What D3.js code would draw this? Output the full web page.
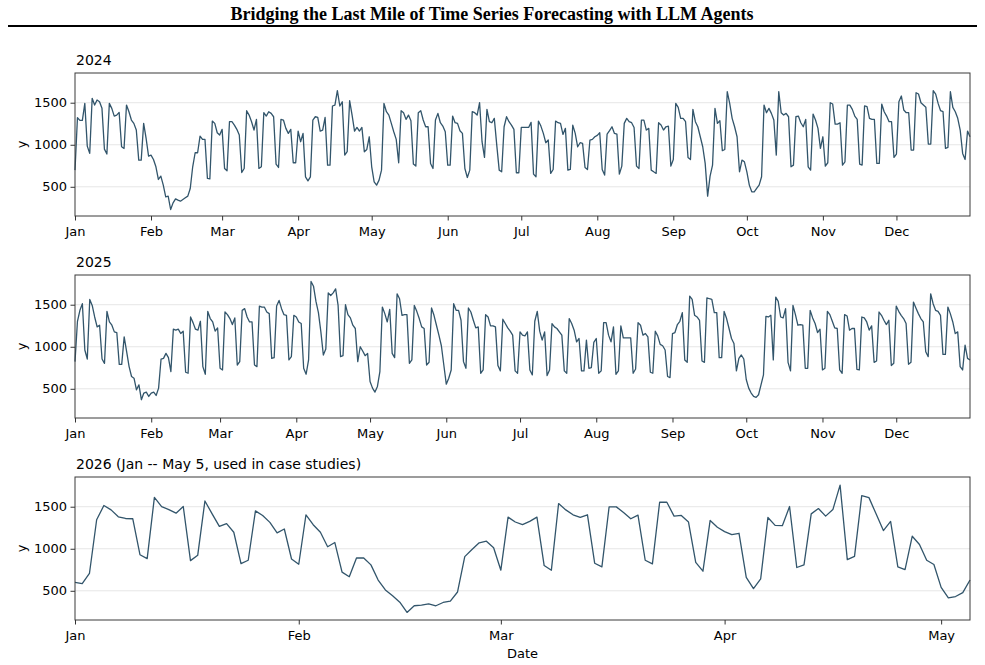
<!doctype html>
<html lang='en'>
  <head>
    <meta charset='utf-8'>
    <title>Bridging the Last Mile of Time Series Forecasting with LLM Agents</title>
    <script src='https://d3js.org/d3.v7.min.js'></script>
    <style>
      body { margin: 0; background: #fff; }
      svg { display: block; font-family: 'DejaVu Sans', sans-serif; }
    </style>
  </head>
  <body>
    <svg width='985' height='665'></svg>
    <script>
      // daily values
      var values2024 = [
        698,1321,1290,1290,1492,984,897,1552,1472,1532,
        1512,1433,948,889,1492,1433,1341,1353,1385,976,
        956,1472,1393,1294,1254,1175,817,817,1254,1075,
        865,877,825,738,587,627,520,381,389,230,
        309,357,341,329,349,369,389,480,738,905,
        905,1103,1064,1064,599,595,1282,1254,1143,1115,
        1183,718,690,1274,1274,1234,1183,1115,670,718,
        1405,1353,1274,1175,1302,718,738,1381,1341,1393,
        1373,1333,770,730,1302,1294,1195,1135,1183,786,
        786,1163,1036,1135,619,571,619,1294,1333,1325,
        1163,1175,1325,758,758,1461,1472,1643,1461,1512,
        877,917,1524,1353,1163,1206,1163,1206,917,944,
        1095,738,559,520,579,698,1492,1393,1353,1254,
        1155,1064,786,1405,1381,1302,1353,1286,770,746,
        1381,1405,1294,1214,1214,778,718,1294,1373,1262,
        1222,1155,758,758,1341,1262,1254,1167,1135,718,
        611,698,1393,1381,1353,1500,1036,849,1421,1274,
        1262,1314,996,698,678,1214,1333,1274,1234,1183,
        667,667,1206,1206,1206,1206,1266,651,619,1282,
        1222,1135,1024,1056,659,706,1282,1262,1254,1123,
        1195,698,706,1234,1135,976,1024,1016,730,706,
        1056,1064,1095,1111,1143,706,639,1127,1167,1214,
        1135,1127,651,746,1254,1314,1274,1262,1206,746,
        718,1294,1294,1175,1195,698,678,659,1262,1234,
        1175,1214,1222,746,825,1492,1445,1314,1314,1274,
        849,825,1421,1274,1214,1095,976,778,389,627,
        758,1433,1254,1286,929,944,1631,1492,1314,1214,
        1095,678,817,797,678,520,440,440,480,520,
        619,1472,1381,1433,1373,1294,877,1631,1381,1353,
        1373,1333,738,758,1333,1341,1262,1214,1302,738,
        698,1365,1294,1195,956,1095,746,786,1500,1484,
        1246,1246,1262,758,797,1472,1472,1421,1341,1302,
        770,758,1461,1453,1314,1302,1302,778,778,1484,
        1393,1341,1274,1274,849,889,1512,1580,1413,1381,
        1381,937,937,1619,1603,1500,1472,1445,1008,1008,
        1643,1603,1492,1405,1393,956,968,1631,1445,1393,
        1314,1175,897,825,1163,1095
      ];

      var values2025 = [
        823,1303,1433,1512,961,854,1563,1492,1354,1236,
        1256,854,803,1421,1295,1256,1177,1169,791,791,
        1118,941,764,646,626,488,547,370,449,461,
        409,449,461,421,508,854,862,921,870,705,
        1209,1197,1209,1157,1185,697,685,1354,1287,1209,
        1197,1303,764,673,1421,1335,1295,1185,1224,744,
        724,1413,1382,1335,1264,1343,783,823,1433,1453,
        1354,1295,1295,783,764,1484,1472,1472,1413,1394,
        862,870,1484,1551,1453,1382,1374,843,882,1374,
        1354,1295,1276,744,673,843,1776,1720,1539,1406,
        1177,902,972,1641,1610,1641,1689,1492,882,894,
        1500,1382,1343,1256,1217,823,1000,949,894,921,
        587,508,461,528,705,1472,1394,1295,1445,921,
        870,1630,1571,1374,1382,1382,803,843,1492,1421,
        1335,1236,1217,783,815,1461,1374,1256,1138,1012,
        783,555,626,724,1512,1433,1433,1315,823,744,
        1461,1413,1315,1224,1236,685,724,1382,1354,1248,
        1248,1236,776,713,1327,1276,1224,1185,1138,713,
        685,1177,1138,1130,1177,724,665,1303,1421,1185,
        1079,1177,657,724,1276,1236,1217,1177,1138,713,
        685,1335,1276,1197,1059,1098,713,713,1079,744,
        752,1051,1098,685,713,1287,1287,1138,1059,1236,
        673,713,1248,1106,1106,1106,1106,685,736,1287,
        1256,1138,1157,1118,697,685,1185,1130,1028,1012,
        961,646,634,1157,1169,1264,1303,1406,843,815,
        1602,1563,1374,1354,1315,831,815,1582,1571,1563,
        1406,1406,870,870,1421,1335,1217,1098,1039,713,
        862,902,854,610,508,449,409,398,429,547,
        665,1362,1354,1374,843,1591,1539,1354,1343,1453,
        815,713,1492,1382,1256,1264,1256,744,744,1433,
        1343,1276,1169,1209,724,744,1421,1382,1303,1224,
        1217,724,685,1382,1366,1197,1217,1217,732,724,
        1354,1343,1295,1197,1248,815,831,1413,1374,1315,
        1264,1315,776,803,1484,1421,1374,1335,1276,791,
        815,1531,1461,1394,1335,1295,941,882,1630,1512,
        1433,1421,1374,909,909,1472,1394,1295,1157,1177,
        764,724,1020,862,843
      ];

      var values2026 = [
        600,585,706,1345,1514,1462,1380,1360,1357,929,
        882,1611,1502,1466,1423,1502,859,922,1568,1415,
        1266,1298,1196,824,863,1451,1396,1314,1188,1235,
        878,816,1404,1286,1196,1024,1074,722,667,890,
        890,808,628,510,440,365,243,322,330,345,
        322,361,377,486,906,992,1071,1090,1012,745,
        1376,1318,1286,1325,1376,800,745,1537,1462,1404,
        1372,1404,828,784,1498,1498,1431,1357,1400,863,
        820,1553,1553,1388,1396,1318,839,733,1337,1255,
        1204,1169,1184,659,526,643,1372,1278,1274,1502,
        777,808,1415,1478,1388,1466,1756,871,910,1631,
        1608,1412,1216,1325,784,753,1149,1051,863,812,
        541,416,432,479,628
      ];

      var startDates = ['2024-01-01', '2025-01-01', '2026-01-01'];
      var panelTitles = ['2024', '2025', '2026 (Jan -- May 5, used in case studies)'];
      var yTicks = [500, 1000, 1500];

      var svg = d3.select('svg'),
          margin = {left: 75, right: 15},
          width = +svg.attr('width') - margin.left - margin.right,
          panelTops = [73, 275, 477],
          panelHeight = 143,
          lineColor = '#32556b',
          tickFont = 13;

      var series = [values2024, values2025, values2026].map(function(vals, i) {
        var start = d3.utcParse('%Y-%m-%d')(startDates[i]);
        return vals.map(function(v, j) {
          return {date: d3.utcDay.offset(start, j), value: v};
        });
      });

      // shared y range, padded like matplotlib
      var allValues = values2024.concat(values2025, values2026);
      var lo = d3.min(allValues), hi = d3.max(allValues), pad = (hi - lo) * 0.05;

      // title + rule
      svg.append('text')
        .attr('x', 492)
        .attr('y', 20)
        .attr('text-anchor', 'middle')
        .attr('font-family', "'Liberation Serif', 'Times New Roman', serif")
        .attr('font-weight', 'bold')
        .attr('font-size', 18)
        .attr('fill', '#000')
        .text('Bridging the Last Mile of Time Series Forecasting with LLM Agents');

      svg.append('line')
        .attr('x1', 8).attr('x2', 977)
        .attr('y1', 26).attr('y2', 26)
        .attr('stroke', '#000')
        .attr('stroke-width', 2);

      series.forEach(function(data, i) {
        var g = svg.append('g')
          .attr('transform', 'translate(' + margin.left + ',' + panelTops[i] + ')');

        var x = d3.scaleUtc()
          .domain(d3.extent(data, function(d) { return d.date; }))
          .range([0, width]);

        var y = d3.scaleLinear()
          .domain([lo - pad, hi + pad])
          .range([panelHeight, 0]);

        // grid
        g.append('g')
          .selectAll('line')
          .data(yTicks)
          .enter().append('line')
          .attr('x1', 0).attr('x2', width)
          .attr('y1', function(d) { return y(d); })
          .attr('y2', function(d) { return y(d); })
          .attr('stroke', '#e6e6e6')
          .attr('stroke-width', 1);

        var line = d3.line()
          .x(function(d) { return x(d.date); })
          .y(function(d) { return y(d.value); });

        g.append('path')
          .datum(data)
          .attr('fill', 'none')
          .attr('stroke', lineColor)
          .attr('stroke-width', 1.3)
          .attr('stroke-linejoin', 'round')
          .attr('d', line);

        // frame
        g.append('rect')
          .attr('width', width)
          .attr('height', panelHeight)
          .attr('fill', 'none')
          .attr('stroke', '#3a3a3a')
          .attr('stroke-width', 1);

        var months = d3.utcMonth.range(x.domain()[0], d3.utcDay.offset(x.domain()[1], 1));

        var xAxis = g.append('g')
          .attr('transform', 'translate(0,' + panelHeight + ')')
          .call(d3.axisBottom(x)
            .tickValues(months)
            .tickFormat(d3.utcFormat('%b'))
            .tickSize(4.5)
            .tickPadding(6.5)
            .tickSizeOuter(0));
        xAxis.select('.domain').remove();
        xAxis.attr('font-size', tickFont).attr('font-family', null);
        xAxis.selectAll('text').attr('fill', '#000');
        xAxis.selectAll('line').attr('stroke', '#333');

        var yAxis = g.append('g')
          .call(d3.axisLeft(y)
            .tickValues(yTicks)
            .tickFormat(d3.format('d'))
            .tickSize(4.5)
            .tickPadding(3.5)
            .tickSizeOuter(0));
        yAxis.select('.domain').remove();
        yAxis.attr('font-size', tickFont).attr('font-family', null);
        yAxis.selectAll('text').attr('fill', '#000');
        yAxis.selectAll('line').attr('stroke', '#333');

        g.append('text')
          .attr('transform', 'translate(-49,' + (panelHeight / 2) + ') rotate(-90)')
          .attr('text-anchor', 'middle')
          .attr('font-size', tickFont)
          .attr('fill', '#000')
          .text('y');

        g.append('text')
          .attr('x', 1)
          .attr('y', -8)
          .attr('font-size', 14)
          .attr('fill', '#000')
          .text(panelTitles[i]);

        if (i === series.length - 1) {
          g.append('text')
            .attr('x', width / 2)
            .attr('y', panelHeight + 38)
            .attr('text-anchor', 'middle')
            .attr('font-size', tickFont)
            .attr('fill', '#000')
            .text('Date');
        }
      });
    </script>
  </body>
</html>
